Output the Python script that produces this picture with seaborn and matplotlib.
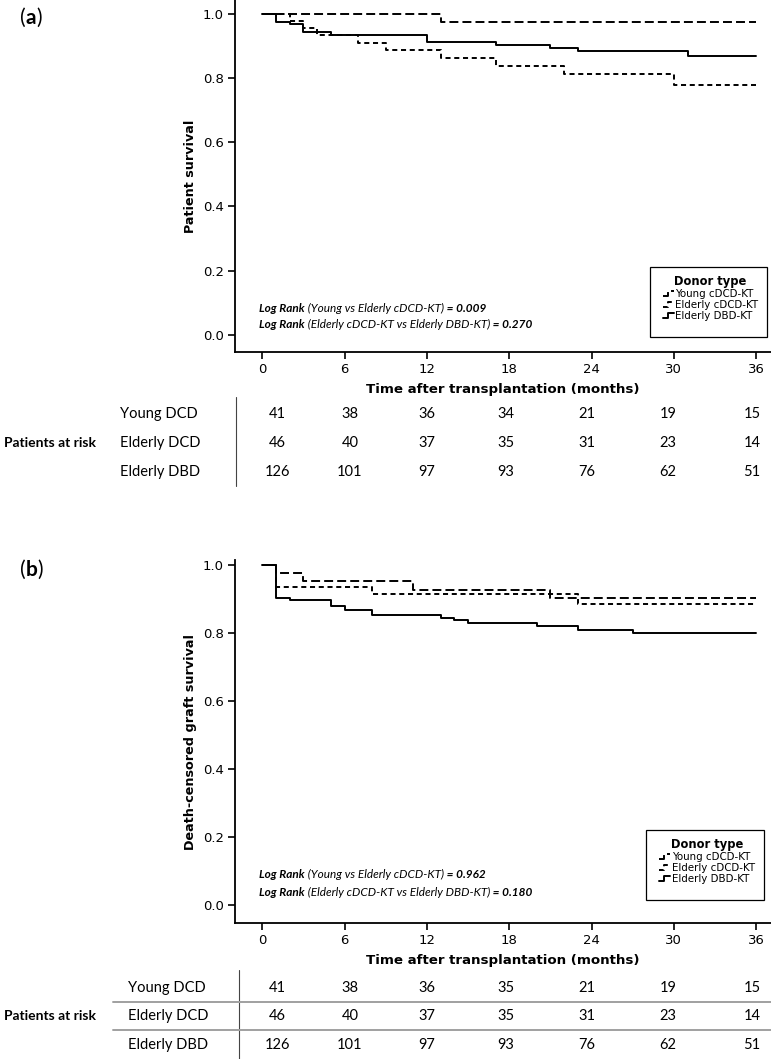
import numpy as np
import pandas as pd
import matplotlib
matplotlib.use('Agg')
import matplotlib.pyplot as plt
import seaborn as sns
from matplotlib.lines import Line2D
from matplotlib.patches import Rectangle
from matplotlib.legend_handler import HandlerLine2D

# ---- data ----
groups = ['Young cDCD-KT', 'Elderly cDCD-KT', 'Elderly DBD-KT']

# (a) patient survival
young_a_t = [0, 13, 36]
young_a_s = [1.0, 0.975, 0.975]
eld_dcd_a_t = [0, 2, 3, 4, 7, 9, 13, 17, 22, 30, 36]
eld_dcd_a_s = [1.0, 0.978, 0.955, 0.934, 0.911, 0.887, 0.862, 0.838, 0.813, 0.780, 0.780]
dbd_a_t = [0, 1, 2, 3, 5, 12, 17, 21, 23, 31, 36]
dbd_a_s = [1.0, 0.976, 0.969, 0.943, 0.934, 0.914, 0.904, 0.893, 0.885, 0.869, 0.869]

# (b) death-censored graft survival
young_b_t = [0, 1, 3, 11, 21, 36]
young_b_s = [1.0, 0.977, 0.953, 0.928, 0.903, 0.903]
eld_dcd_b_t = [0, 1, 8, 23, 36]
eld_dcd_b_s = [1.0, 0.937, 0.915, 0.885, 0.885]
dbd_b_t = [0, 1, 2, 5, 6, 8, 13, 14, 15, 20, 23, 27, 36]
dbd_b_s = [1.0, 0.905, 0.898, 0.880, 0.870, 0.853, 0.846, 0.838, 0.829, 0.821, 0.810, 0.800, 0.800]

x_ticks = [0, 6, 12, 18, 24, 30, 36]
y_ticks = [0.0, 0.2, 0.4, 0.6, 0.8, 1.0]

risk_rows = ['Young DCD', 'Elderly DCD', 'Elderly DBD']
risk_a = [[41, 38, 36, 34, 21, 19, 15],
          [46, 40, 37, 35, 31, 23, 14],
          [126, 101, 97, 93, 76, 62, 51]]
risk_b = [[41, 38, 36, 35, 21, 19, 15],
          [46, 40, 37, 35, 31, 23, 14],
          [126, 101, 97, 93, 76, 62, 51]]

logrank_a = [('(Young vs Elderly cDCD-KT)', '0.009'),
             ('(Elderly cDCD-KT vs Elderly DBD-KT)', '0.270')]
logrank_b = [('(Young vs Elderly cDCD-KT)', '0.962'),
             ('(Elderly cDCD-KT vs Elderly DBD-KT)', '0.180')]

# ---- style ----
W, H = 771, 1059
LW = 1.4
dash_map = {'Young cDCD-KT': (4.6, 2.1), 'Elderly cDCD-KT': (2.6, 1.9), 'Elderly DBD-KT': ''}

sns.set_style('ticks', rc={'axes.edgecolor': 'black', 'xtick.color': 'black',
                           'ytick.color': 'black', 'text.color': 'black',
                           'axes.labelcolor': 'black'})
plt.rcParams['font.family'] = ['DejaVu Sans']
plt.rcParams['axes.linewidth'] = 1.3


def fx(px):
    return px / W


def fy(py):
    return 1 - py / H


def to_frame(ts, ss):
    parts = []
    for g, t, s in zip(groups, ts, ss):
        parts.append(pd.DataFrame({'time': t, 'surv': s, 'group': g}))
    return pd.concat(parts, ignore_index=True)


class StepHandler(HandlerLine2D):
    # small step glyph like the SPSS legend
    def create_artists(self, legend, orig_handle, xdescent, ydescent, width, height, fontsize, trans):
        x0 = -xdescent
        x1 = x0 + width
        xm = x0 + width * 0.45
        y0 = -ydescent + height * 0.15
        y1 = -ydescent + height * 0.85
        line = Line2D([x0, xm, xm, x1], [y0, y0, y1, y1])
        self.update_prop(line, orig_handle, legend)
        line.set_transform(trans)
        return [line]


def rich_line(fig, ax, x, y, parts, size):
    t = fig.text(fx(x), fy(y), parts[0][0], family='Lato', fontsize=size,
                 fontweight=parts[0][1], fontstyle='italic', va='center', ha='left')
    for s, w in parts[1:]:
        t = ax.annotate(s, xy=(1, 0), xycoords=t, va='bottom', ha='left',
                        family='Lato', fontsize=size, fontweight=w, fontstyle='italic',
                        annotation_clip=False)


def draw_panel(fig, rect, df, ylim, ylabel, tag, tag_y, legend_box, logrank, lr_y,
               table_y, table_counts, vline, seps, label_x):
    ax = fig.add_axes(rect)
    sns.lineplot(data=df, x='time', y='surv', style='group', style_order=groups,
                 dashes=dash_map, color='black', lw=LW, drawstyle='steps-post',
                 estimator=None, legend=False, ax=ax)
    ax.set_xlim(-1.99, 37.08)
    ax.set_ylim(*ylim)
    ax.set_xticks(x_ticks)
    ax.set_yticks(y_ticks)
    ax.set_yticklabels([f'{v:.1f}' for v in y_ticks])
    ax.tick_params(direction='out', length=5, width=1.2, labelsize=9.5, pad=3)
    sns.despine(ax=ax)
    ax.set_xlabel('Time after transplantation (months)', fontsize=9.6, fontweight='bold', labelpad=5)
    ax.set_ylabel(ylabel, fontsize=9.2, fontweight='bold')
    ax.yaxis.set_label_coords(-0.070, 0.5)

    # legend
    handles = [Line2D([], [], color='black', lw=LW, dashes=dash_map[g] if dash_map[g] else (None, None))
               for g in groups]
    bx0, by0, bx1, by1 = legend_box
    fig.add_artist(Rectangle((fx(bx0), fy(by1)), (bx1 - bx0) / W, (by1 - by0) / H,
                             transform=fig.transFigure, fill=False, ec='black', lw=0.9))
    ax.legend(handles, groups, title='Donor type', loc='upper center',
              bbox_to_anchor=(fx((bx0 + bx1) / 2 + 2), fy(by0 + 1)),
              bbox_transform=fig.transFigure, frameon=False, fontsize=7.4,
              title_fontproperties={'weight': 'bold', 'size': 8.3},
              handlelength=1.1, handletextpad=0.15, labelspacing=0.08,
              borderpad=0.2, handler_map={Line2D: StepHandler()})

    # log rank text
    for (cmp, p), yy in zip(logrank, lr_y):
        rich_line(fig, ax, 259, yy, [('Log Rank', 'bold'), (' ' + cmp, 'normal'),
                                     (' = ' + p, 'bold')], 8.5)

    # panel tag
    t1 = fig.text(fx(20), fy(tag_y), '(', family='Lato', fontsize=15, va='center')
    t2 = ax.annotate(tag, xy=(1, 0), xycoords=t1, va='bottom', family='Lato',
                     fontsize=15, fontweight='bold', annotation_clip=False)
    ax.annotate(')', xy=(1, 0), xycoords=t2, va='bottom', family='Lato', fontsize=15,
                annotation_clip=False)

    # patients at risk table
    col_x = [277, 350, 427, 506, 587, 668, 752]
    fig.text(fx(4), fy(table_y[1]), 'Patients at risk', family='Lato', fontsize=10,
             fontweight='bold', va='center', ha='left')
    for name, yy, vals in zip(risk_rows, table_y, table_counts):
        fig.text(fx(label_x), fy(yy), name, family='Lato', fontsize=10.5, va='center', ha='left')
        for cx, v in zip(col_x, vals):
            fig.text(fx(cx), fy(yy), str(v), family='Lato', fontsize=10.5, va='center', ha='center')
    vx, vy0, vy1 = vline
    fig.add_artist(Line2D([fx(vx), fx(vx)], [fy(vy0), fy(vy1)], color='#444444', lw=0.8))
    for sy in seps:
        fig.add_artist(Line2D([fx(113), fx(771)], [fy(sy), fy(sy)], color='#a0a0a0', lw=1.4))
    return ax


fig = plt.figure(figsize=(W / 100, H / 100), dpi=100)

df_a = to_frame([young_a_t, eld_dcd_a_t, dbd_a_t], [young_a_s, eld_dcd_a_s, dbd_a_s])
df_b = to_frame([young_b_t, eld_dcd_b_t, dbd_b_t], [young_b_s, eld_dcd_b_s, dbd_b_s])

# panel (a)
draw_panel(fig, [fx(235), fy(352), (771 - 235) / W, 352 / H], df_a,
           (-0.054, 1.0437), 'Patient survival', 'a', 18,
           (650, 267, 767, 337), logrank_a, [309, 324],
           [414, 443, 472], risk_a, (235.5, 397, 486), [], 120)

# panel (b)
draw_panel(fig, [fx(235), fy(923.3), (771 - 235) / W, (923.3 - 560) / H], df_b,
           (-0.055, 1.0162), 'Death-censored graft survival', 'b', 570,
           (646, 830, 763.5, 900), logrank_b, [875, 893],
           [988, 1016, 1045], risk_b, (239, 970, 1059), [1002, 1030], 128)

fig.savefig('out.png', dpi=100)
